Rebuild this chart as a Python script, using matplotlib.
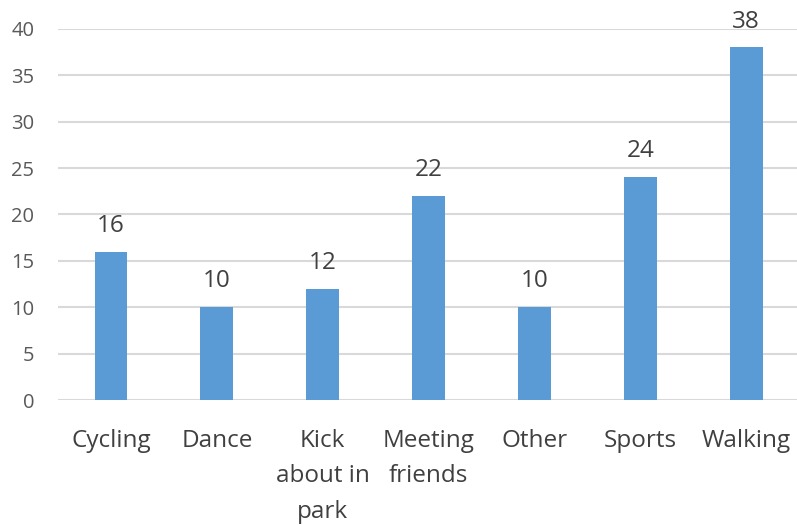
import numpy as np
import matplotlib.pyplot as plt

plt.rcParams['font.family'] = ['Open Sans', 'DejaVu Sans']

categories = ["Cycling", "Dance", "Kick\nabout in\npark", "Meeting\nfriends", "Other", "Sports", "Walking"]
values = [16, 10, 12, 22, 10, 24, 38]

fig = plt.figure(figsize=(7.97, 5.25), dpi=100)
ax = fig.add_axes([0.0728, 0.238, 0.93, 0.707])

x = np.arange(len(categories))
bars = ax.bar(x, values, width=0.31, color="#5B9BD5", zorder=3)

for xi, v in zip(x, values):
    ax.text(xi, v + 1.5, str(v), ha="center", va="bottom", fontsize=17.5, color="#404040")

ax.set_xlim(-0.5, len(categories) - 0.5)
ax.set_ylim(0, 40)
ax.set_yticks(np.arange(0, 41, 5))
ax.yaxis.grid(True, color="#D9D9D9", linewidth=1.5, zorder=0)
ax.set_xticks(x)
ax.set_xticklabels(categories, fontsize=17.5, color="#404040", linespacing=1.62)
ax.tick_params(axis="y", labelsize=14.5, labelcolor="#595959", length=0, pad=17)
ax.tick_params(axis="x", length=0, pad=21)
for s in ax.spines.values():
    s.set_visible(False)

fig.savefig("out.png", dpi=100)
